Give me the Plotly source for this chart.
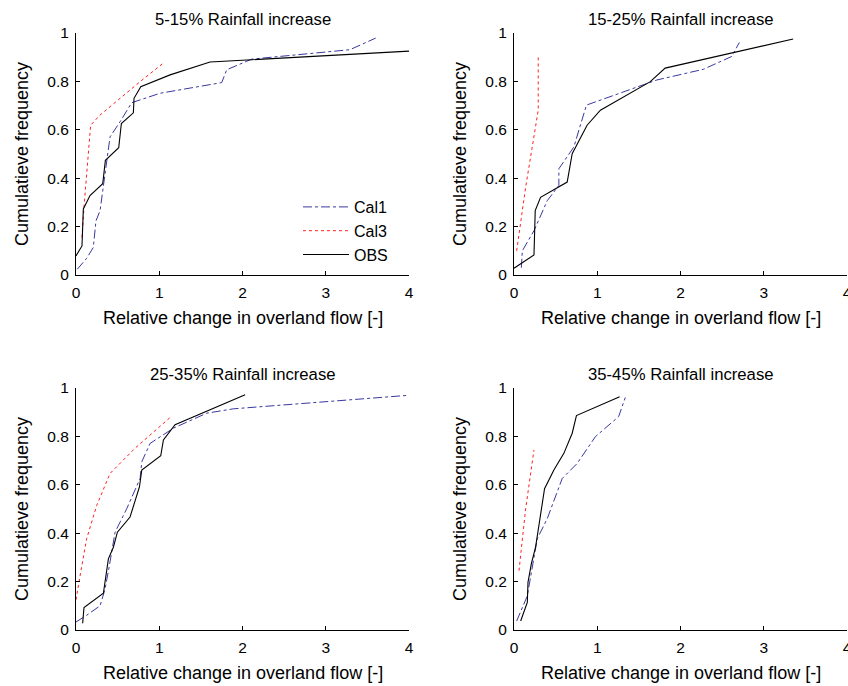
import plotly.graph_objects as go

# Cumulative frequency curves of relative change in overland flow, per rainfall-increase class
panel_titles = ["5-15% Rainfall increase", "15-25% Rainfall increase",
                "25-35% Rainfall increase", "35-45% Rainfall increase"]
series_names = ["Cal1", "Cal3", "OBS"]

# 5-15%
cal1_x_1 = [0.016, 0.128, 0.208, 0.240, 0.289, 0.337, 0.409, 0.529, 0.669, 1.01, 1.75, 1.81, 2.11, 3.29, 3.60]
cal1_y_1 = [0.024, 0.069, 0.114, 0.224, 0.266, 0.391, 0.571, 0.633, 0.712, 0.751, 0.795, 0.848, 0.892, 0.931, 0.979]
cal3_x_1 = [0.072, 0.096, 0.176, 0.289, 0.770, 1.058]
cal3_y_1 = [0.155, 0.280, 0.619, 0.661, 0.799, 0.878]
obs_x_1 = [0.0, 0.072, 0.088, 0.168, 0.321, 0.353, 0.513, 0.545, 0.689, 0.697, 0.778, 1.13, 1.61, 4.0]
obs_y_1 = [0.079, 0.12, 0.273, 0.328, 0.377, 0.474, 0.526, 0.626, 0.670, 0.730, 0.778, 0.827, 0.880, 0.925]

# 15-25%
cal1_x_2 = [0.088, 0.10, 0.24, 0.399, 0.539, 0.539, 0.719, 0.870, 1.717, 2.275, 2.615, 2.707]
cal1_y_2 = [0.030, 0.10, 0.183, 0.307, 0.370, 0.439, 0.529, 0.702, 0.806, 0.850, 0.903, 0.961]
cal3_x_2 = [0.032, 0.14, 0.291, 0.291]
cal3_y_2 = [0.10, 0.363, 0.681, 0.900]
obs_x_2 = [0.0, 0.24, 0.255, 0.319, 0.639, 0.699, 0.878, 1.038, 1.637, 1.816, 3.353]
obs_y_2 = [0.028, 0.083, 0.266, 0.321, 0.384, 0.501, 0.619, 0.681, 0.799, 0.855, 0.975]

# 25-35%
cal1_x_3 = [0.0, 0.128, 0.289, 0.349, 0.401, 0.469, 0.609, 0.770, 0.790, 0.890, 1.170, 1.571, 1.892, 4.0]
cal1_y_3 = [0.033, 0.061, 0.100, 0.169, 0.266, 0.404, 0.501, 0.626, 0.695, 0.771, 0.834, 0.896, 0.914, 0.970]
cal3_x_3 = [0.0, 0.028, 0.056, 0.128, 0.249, 0.409, 0.709, 1.130]
cal3_y_3 = [0.125, 0.19, 0.238, 0.377, 0.515, 0.647, 0.751, 0.878]
obs_x_3 = [0.080, 0.096, 0.329, 0.361, 0.389, 0.449, 0.497, 0.649, 0.762, 0.790, 1.018, 1.050, 1.190, 2.032]
obs_y_3 = [0.028, 0.093, 0.152, 0.224, 0.294, 0.342, 0.404, 0.467, 0.591, 0.661, 0.720, 0.785, 0.848, 0.972]

# 35-45%
cal1_x_4 = [0.032, 0.160, 0.279, 0.399, 0.579, 0.758, 0.978, 1.257, 1.337]
cal1_y_4 = [0.037, 0.141, 0.377, 0.460, 0.626, 0.688, 0.799, 0.882, 0.961]
cal3_x_4 = [0.060, 0.14, 0.240]
cal3_y_4 = [0.245, 0.501, 0.744]
obs_x_4 = [0.080, 0.160, 0.168, 0.208, 0.259, 0.319, 0.367, 0.479, 0.599, 0.699, 0.750, 1.269]
obs_y_4 = [0.037, 0.114, 0.197, 0.273, 0.342, 0.481, 0.584, 0.661, 0.730, 0.813, 0.886, 0.964]

x_ticks = [0, 1, 2, 3, 4]
y_ticks = [0, 0.2, 0.4, 0.6, 0.8, 1]
y_tick_text = ["0", "0.2", "0.4", "0.6", "0.8", "1"]

panels = [
    (cal1_x_1, cal1_y_1, cal3_x_1, cal3_y_1, obs_x_1, obs_y_1),
    (cal1_x_2, cal1_y_2, cal3_x_2, cal3_y_2, obs_x_2, obs_y_2),
    (cal1_x_3, cal1_y_3, cal3_x_3, cal3_y_3, obs_x_3, obs_y_3),
    (cal1_x_4, cal1_y_4, cal3_x_4, cal3_y_4, obs_x_4, obs_y_4),
]

W, H = 848, 686
# plot areas in pixels: (left, right, top, bottom)
boxes = [(76, 409, 33, 275), (514, 847, 33, 275),
         (76, 409, 388, 630), (514, 847, 388, 630)]

styles = [
    dict(color="#3838a0", width=1, dash="dashdot"),
    dict(color="#ff2020", width=1, dash="dot"),
    dict(color="#000000", width=1.1, dash="solid"),
]

FONT = "Liberation Sans, Arial, sans-serif"
fig = go.Figure()
annotations = []

for i, (data, box) in enumerate(zip(panels, boxes)):
    ax = "" if i == 0 else str(i + 1)
    xs = [data[0], data[2], data[4]]
    ys = [data[1], data[3], data[5]]
    for k in range(3):
        fig.add_trace(go.Scatter(
            x=xs[k], y=ys[k], mode="lines", name=series_names[k],
            line=styles[k], showlegend=(i == 0),
            xaxis="x" + ax, yaxis="y" + ax,
        ))
    l, r, t, b = box
    xd = [l / W, r / W]
    yd = [1 - b / H, 1 - t / H]
    common = dict(showline=True, linecolor="black", linewidth=1, mirror=False,
                  showgrid=False, zeroline=False, ticks="inside", ticklen=4,
                  tickcolor="black", automargin=False, ticklabeloverflow="allow",
                  tickfont=dict(family=FONT, size=15.5, color="black"))
    fig.update_layout(**{
        "xaxis" + ax: dict(domain=xd, range=[0, 4], tickvals=x_ticks,
                           anchor="y" + ax, ticklabelstandoff=3, **common),
        "yaxis" + ax: dict(domain=yd, range=[0, 1], tickvals=y_ticks,
                           ticktext=y_tick_text, anchor="x" + ax,
                           ticklabelstandoff=3, **common),
    })
    cx = (l + r) / 2 / W
    annotations.append(dict(text=panel_titles[i], x=cx, y=1 - (t - 14) / H,
                            xref="paper", yref="paper", showarrow=False,
                            font=dict(family=FONT, size=16.7, color="black"),
                            xanchor="center", yanchor="middle"))
    annotations.append(dict(text="Relative change in overland flow [-]", x=cx,
                            y=1 - (b + 43) / H, xref="paper", yref="paper",
                            showarrow=False,
                            font=dict(family=FONT, size=18, color="black"),
                            xanchor="center", yanchor="middle"))
    annotations.append(dict(text="Cumulatieve frequency", x=(l - 54) / W,
                            y=1 - (t + b) / 2 / H, xref="paper", yref="paper",
                            showarrow=False, textangle=-90,
                            font=dict(family=FONT, size=18, color="black"),
                            xanchor="center", yanchor="middle"))

fig.update_layout(
    template="none",
    width=W, height=H, margin=dict(l=0, r=0, t=0, b=0),
    paper_bgcolor="white", plot_bgcolor="white",
    annotations=annotations,
    showlegend=True,
    legend=dict(x=298 / W, y=1 - 190 / H, xanchor="left", yanchor="top",
                bgcolor="rgba(0,0,0,0)", borderwidth=0, itemwidth=46,
                font=dict(family=FONT, size=16, color="black"),
                tracegroupgap=0),
)

fig.write_html("out.html")
